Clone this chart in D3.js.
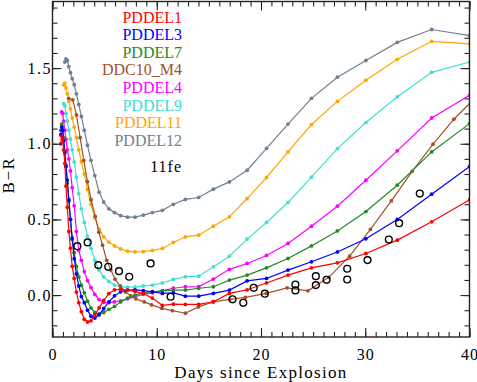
<!DOCTYPE html>
<meta charset="utf-8">
<script src="https://d3js.org/d3.v7.min.js"></script>
<style>
  body { margin: 0; background: #fff; }
</style>
<div id="chart"></div>
<script>

// shared model epochs (days since explosion)
var days = [0.80, 0.88, 0.97, 1.07, 1.18, 1.29, 1.42, 1.57, 1.72, 1.89, 2.08, 2.29, 2.52, 2.77,
  3.05, 3.36, 3.69, 4.06, 4.47, 4.91, 5.41, 5.95, 6.54, 7.20, 7.92, 8.71, 9.58, 10.54, 11.59,
  12.75, 14.02, 15.43, 16.97, 18.67, 20.53, 22.59, 24.84, 27.33, 30.06, 33.07, 36.37, 40.01];

var pddel1 = [1.00, 1.05, 1.03, 0.96, 0.87, 0.72, 0.58, 0.42, 0.31, 0.19, 0.11, 0.02, -0.05, -0.11,
  -0.16, -0.178, -0.17, -0.13, -0.085, -0.035, 0.01, 0.035, 0.038, 0.033, 0.025, 0.01, -0.02, -0.068,
  -0.06, -0.062, -0.062, -0.044, 0.011, 0.035, 0.08, 0.132, 0.18, 0.213, 0.275, 0.363, 0.484, 0.63];
var pddel3 = [1.06, 1.11, 1.09, 1.02, 0.94, 0.85, 0.76, 0.63, 0.50, 0.37, 0.24, 0.14, 0.06, -0.01,
  -0.05, -0.10, -0.14, -0.152, -0.13, -0.09, -0.045, -0.005, 0.022, 0.033, 0.035, 0.03, 0.022, 0.011,
  0.015, -0.007, -0.007, 0.011, 0.033, 0.094, 0.11, 0.165, 0.22, 0.285, 0.372, 0.50, 0.667, 0.85];
var pddel7 = [1.09, 1.13, 1.11, 1.04, 0.95, 0.86, 0.74, 0.62, 0.50, 0.38, 0.28, 0.19, 0.12, 0.065,
  0.015, -0.04, -0.085, -0.115, -0.125, -0.115, -0.095, -0.075, -0.045, -0.02, 0.0, 0.015, 0.022, 0.028,
  0.033, 0.033, 0.045, 0.055, 0.099, 0.132, 0.18, 0.242, 0.325, 0.424, 0.552, 0.726, 0.946, 1.133];
var pddel4 = [null, 1.21, 1.20, 1.15, 1.09, 1.03, 0.96, 0.90, 0.82, 0.71, 0.59, 0.42, 0.295, 0.23,
  0.155, 0.095, 0.05, 0.005, -0.03, -0.048, -0.05, -0.045, -0.038, -0.025, -0.01, 0.005, 0.015, 0.03,
  0.045, 0.055, 0.056, 0.106, 0.17, 0.209, 0.262, 0.341, 0.455, 0.587, 0.759, 0.953, 1.17, 1.32];
var pddel9 = [null, null, null, 1.265, 1.25, 1.20, 1.15, 1.09, 1.03, 0.96, 0.88, 0.78, 0.67, 0.57,
  0.48, 0.39, 0.31, 0.23, 0.165, 0.12, 0.09, 0.066, 0.056, 0.052, 0.054, 0.06, 0.066, 0.08,
  0.104, 0.121, 0.125, 0.187, 0.257, 0.37, 0.48, 0.612, 0.78, 0.968, 1.14, 1.31, 1.472, 1.54];
var pddel11 = [null, null, null, 1.39, 1.40, 1.37, 1.33, 1.28, 1.23, 1.17, 1.11, 1.04, 0.96, 0.88,
  0.80, 0.70, 0.60, 0.51, 0.435, 0.385, 0.35, 0.325, 0.305, 0.29, 0.285, 0.287, 0.295, 0.308,
  0.348, 0.385, 0.396, 0.455, 0.517, 0.638, 0.777, 0.946, 1.127, 1.28, 1.42, 1.558, 1.677, 1.66];
var pddel12 = [null, null, null, null, 1.54, 1.56, 1.55, 1.51, 1.47, 1.43, 1.39, 1.33, 1.26, 1.18,
  1.09, 0.99, 0.89, 0.79, 0.68, 0.615, 0.57, 0.545, 0.525, 0.515, 0.515, 0.528, 0.545, 0.56,
  0.60, 0.632, 0.645, 0.70, 0.748, 0.825, 0.97, 1.13, 1.30, 1.44, 1.55, 1.67, 1.755, 1.715];

// DDC10_M4 has its own epochs
var ddcDays = [1.55, 1.95, 2.3, 2.65, 3.0, 3.35, 3.7, 4.1, 4.45, 4.8, 5.2, 5.6, 6.0, 6.5, 7.0, 7.5,
  8.0, 8.8, 9.5, 10.5, 11.5, 12.75, 14.0, 15.4, 17.0, 18.5, 20.5, 22.5, 24.5, 26.5, 28.5, 30.5,
  32.5, 34.5, 36.5, 38.5, 40.5];
var ddc10 = [1.30, 1.29, 1.19, 1.04, 0.89, 0.75, 0.63, 0.52, 0.415, 0.33, 0.23, 0.165, 0.105, 0.06,
  0.02, -0.005, -0.025, -0.045, -0.065, -0.088, -0.103, -0.12, -0.078, -0.045, -0.028, -0.015, 0.011,
  0.048, 0.028, 0.117, 0.257, 0.434, 0.622, 0.818, 0.997, 1.162, 1.30];

// SN 2011fe observations
var obsDays = [2.38, 3.37, 4.39, 5.35, 6.38, 7.36, 9.41, 11.33, 17.27, 18.3, 19.3, 20.37, 23.3, 23.3,
  25.26, 25.26, 26.29, 28.27, 28.27, 30.22, 32.26, 33.25, 35.23];
var obsBR = [0.323, 0.348, 0.198, 0.187, 0.158, 0.121, 0.209, -0.011, -0.028, -0.051, 0.048, 0.009,
  0.07, 0.031, 0.125, 0.066, 0.101, 0.174, 0.103, 0.231, 0.367, 0.475, 0.671];

var names = ["PDDEL1", "PDDEL3", "PDDEL7", "DDC10_M4", "PDDEL4", "PDDEL9", "PDDEL11", "PDDEL12"];
var colors = ["#ff0000", "#0000ff", "#228b22", "#a0522d", "#ff00ff", "#40e0d0", "#ffa500", "#708090"];
var series = [
  [days, pddel1], [days, pddel3], [days, pddel7], [ddcDays, ddc10],
  [days, pddel4], [days, pddel9], [days, pddel11], [days, pddel12]
];

var serif = "'Liberation Serif', 'Times New Roman', serif";
var W = 477, H = 382;
var pL = 52.5, pR = 469.5, pT = 1.5, pB = 337;

var svg = d3.select("#chart").append("svg")
  .attr("width", W).attr("height", H);

var x = d3.scaleLinear().domain([0, 40]).range([pL, pR]);
var y = d3.scaleLinear().domain([-0.277, 1.94]).range([pB, pT]);

svg.append("clipPath").attr("id", "clip")
  .append("rect")
  .attr("x", pL).attr("y", pT)
  .attr("width", pR - pL).attr("height", pB - pT);

var plot = svg.append("g").attr("clip-path", "url(#clip)");

var line = d3.line()
  .x(function(d) { return x(d[0]); })
  .y(function(d) { return y(d[1]); });

// draw from the back (grey) to the front (red)
for (var i = series.length - 1; i >= 0; i--) {
  var pts = series[i][0].map(function(t, k) { return [t, series[i][1][k]]; })
    .filter(function(d) { return d[1] != null; });
  plot.append("path")
    .datum(pts)
    .attr("d", line)
    .attr("fill", "none")
    .attr("stroke", colors[i])
    .attr("stroke-width", 1.2);
  plot.append("g").selectAll("circle")
    .data(pts)
    .enter().append("circle")
      .attr("cx", function(d) { return x(d[0]); })
      .attr("cy", function(d) { return y(d[1]); })
      .attr("r", 1.9)
      .attr("fill", colors[i]);
}

plot.append("g").selectAll("circle")
  .data(obsDays.map(function(t, k) { return [t, obsBR[k]]; }))
  .enter().append("circle")
    .attr("cx", function(d) { return x(d[0]); })
    .attr("cy", function(d) { return y(d[1]); })
    .attr("r", 3.4)
    .attr("fill", "none")
    .attr("stroke", "#000")
    .attr("stroke-width", 1.4);

// axes: ticks on all four sides, pointing in
var xMajor = [0, 10, 20, 30, 40];
var xMinor = d3.range(0, 41, 1);
var yMajor = [0, 0.5, 1.0, 1.5];
var yMinor = d3.range(-2, 20, 1).map(function(v) { return v / 10; });

function drawAxis(axisFn, scale, values, size, tx, ty) {
  var g = svg.append("g")
    .attr("transform", "translate(" + tx + "," + ty + ")")
    .call(axisFn(scale).tickValues(values).tickSize(size).tickFormat(""));
  g.select(".domain").remove();
  g.selectAll("line").attr("stroke", "#222").attr("stroke-width", 1.1);
  return g;
}
drawAxis(d3.axisBottom, x, xMinor, -5, 0, pB);
drawAxis(d3.axisBottom, x, xMajor, -9, 0, pB);
drawAxis(d3.axisTop, x, xMinor, -5, 0, pT);
drawAxis(d3.axisTop, x, xMajor, -9, 0, pT);
drawAxis(d3.axisLeft, y, yMinor, -5, pL, 0);
drawAxis(d3.axisLeft, y, yMajor, -9, pL, 0);
drawAxis(d3.axisRight, y, yMinor, -5, pR, 0);
drawAxis(d3.axisRight, y, yMajor, -9, pR, 0);

svg.append("rect")
  .attr("x", pL).attr("y", pT)
  .attr("width", pR - pL).attr("height", pB - pT)
  .attr("fill", "none")
  .attr("stroke", "#222")
  .attr("stroke-width", 1.4);

// tick labels
svg.append("g").selectAll("text")
  .data(xMajor)
  .enter().append("text")
    .attr("x", function(d) { return x(d) + 0.5; })
    .attr("y", 360)
    .attr("text-anchor", "middle")
    .attr("font-family", serif)
    .attr("font-size", "16px")
    .attr("letter-spacing", "1px")
    .text(function(d) { return d; });

svg.append("g").selectAll("text")
  .data(yMajor)
  .enter().append("text")
    .attr("x", 52)
    .attr("y", function(d) { return y(d) + 5.5; })
    .attr("text-anchor", "end")
    .attr("font-family", serif)
    .attr("font-size", "16px")
    .attr("letter-spacing", "1.5px")
    .text(function(d) { return d.toFixed(1); });

svg.append("text")
  .attr("x", 261)
  .attr("y", 378)
  .attr("text-anchor", "middle")
  .attr("font-family", serif)
  .attr("font-size", "17px")
  .attr("letter-spacing", "1.3px")
  .text("Days since Explosion");

svg.append("text")
  .attr("transform", "translate(14,175) rotate(-90)")
  .attr("text-anchor", "middle")
  .attr("font-family", serif)
  .attr("font-size", "17px")
  .attr("letter-spacing", "1.5px")
  .text("B\u2212R");

// legend
svg.append("g").selectAll("text")
  .data(names)
  .enter().append("text")
    .attr("x", 182)
    .attr("y", function(d, i) { return 22.5 + i * 17.6; })
    .attr("text-anchor", "end")
    .attr("font-family", serif)
    .attr("font-size", "16px")
    .attr("fill", function(d, i) { return colors[i]; })
    .text(function(d) { return d; });

svg.append("text")
  .attr("x", 182)
  .attr("y", 171.5)
  .attr("text-anchor", "end")
  .attr("font-family", serif)
  .attr("font-size", "16px")
  .attr("letter-spacing", "1px")
  .text("11fe");

</script>
